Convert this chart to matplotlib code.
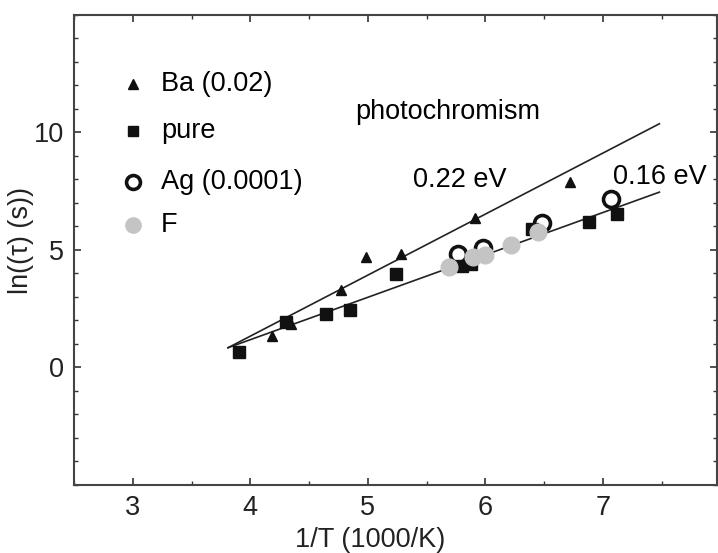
import matplotlib.pyplot as plt
from matplotlib.ticker import MultipleLocator

plt.rcParams['font.family'] = ['Liberation Sans', 'DejaVu Sans']

# data (x = 1000/T, y = ln(tau))
ba_x = [4.18, 4.35, 4.77, 4.98, 5.28, 5.91, 6.72]
ba_y = [1.32, 1.83, 3.31, 4.69, 4.84, 6.37, 7.89]

pure_x = [3.90, 4.30, 4.64, 4.85, 5.24, 5.80, 5.88, 6.40, 6.88, 7.12]
pure_y = [0.65, 1.93, 2.26, 2.43, 3.99, 4.30, 4.40, 5.91, 6.21, 6.54]

ag_x = [5.77, 5.98, 6.48, 7.07]
ag_y = [4.84, 5.09, 6.14, 7.18]

f_x = [5.69, 5.89, 6.00, 6.22, 6.45]
f_y = [4.27, 4.69, 4.77, 5.19, 5.76]

# fitted lines (end points)
fit_x = [3.81, 7.48]
fit_022 = [0.84, 10.37]
fit_016 = [0.84, 7.46]

legend_labels = ['Ba (0.02)', 'pure', 'Ag (0.0001)', 'F']

fig = plt.figure(figsize=(7.18, 5.53), dpi=100)
ax = fig.add_axes([0.1031, 0.123, 0.8955, 0.850])

ax.plot(fit_x, fit_022, color='#222222', lw=1.2, zorder=1)
ax.plot(fit_x, fit_016, color='#222222', lw=1.2, zorder=1)

ax.plot(pure_x, pure_y, 's', color='#111111', ms=8, zorder=2)
ax.plot(ba_x, ba_y, '^', color='#111111', ms=7.5, zorder=2)
ax.plot(f_x, f_y, 'o', color='#c4c4c4', ms=12, zorder=3)
ax.plot(ag_x, ag_y, 'o', mfc='none', mec='#111111', mew=2.6, ms=11.5, zorder=2.5)

# legend drawn by hand
leg_rows = [0.852, 0.753, 0.645, 0.554]
styles = [dict(marker='^', color='#111111', ms=7),
          dict(marker='s', color='#111111', ms=7),
          dict(marker='o', mfc='none', mec='#111111', mew=2.6, ms=10),
          dict(marker='o', color='#c4c4c4', ms=11)]
for yy, lab, st in zip(leg_rows, legend_labels, styles):
    ax.plot([0.0918], [yy], transform=ax.transAxes, ls='none', clip_on=False, **st)
    ax.text(0.135, yy, lab, transform=ax.transAxes, fontsize=19.5, va='center', ha='left')

ax.text(5.68, 10.85, 'photochromism', fontsize=19.5, ha='center', va='center')
ax.text(5.78, 7.96, '0.22 eV', fontsize=19.5, ha='center', va='center')
ax.text(7.48, 8.1, '0.16 eV', fontsize=19.5, ha='center', va='center')

ax.set_xlim(2.5, 7.97)
ax.set_ylim(-5, 15)
ax.xaxis.set_minor_locator(MultipleLocator(0.5))
ax.yaxis.set_minor_locator(MultipleLocator(1))
ax.set_xticks([3, 4, 5, 6, 7])
ax.set_yticks([0, 5, 10])
ax.tick_params(which='both', direction='in', top=True, right=True,
               labelsize=19.5, colors='#333333', labelcolor='#222222', pad=7)
ax.tick_params(which='major', length=5, width=1.2)
ax.tick_params(which='minor', length=3, width=1.0)
for sp in ax.spines.values():
    sp.set_color('#444444')
    sp.set_linewidth(1.5)

ax.set_xlabel('1/T (1000/K)', fontsize=19.5, color='#222222')
ax.set_ylabel('ln((τ) (s))', fontsize=19.5, color='#222222')
ax.xaxis.set_label_coords((370 - 74) / 643, -0.09)
ax.yaxis.set_label_coords(-0.062, 0.52)

fig.savefig('out.png', dpi=100)
